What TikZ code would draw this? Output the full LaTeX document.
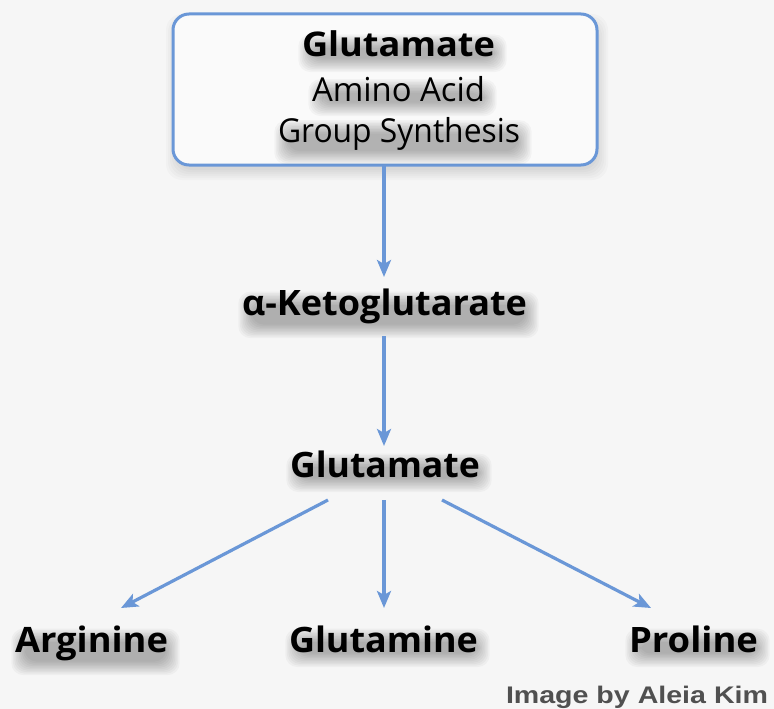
\documentclass[tikz,border=0pt]{standalone}
\usepackage{fontspec}
\setmainfont{Open Sans}
\newfontfamily\labfont{Open Sans Bold}
\newfontfamily\titfont{Open Sans Bold}
\newfontfamily\credfont{Liberation Sans Bold}
\usetikzlibrary{arrows.meta,calc}
\pgfdeclarelayer{bgl}
\pgfsetlayers{bgl,main}
\definecolor{bg}{HTML}{F6F6F6}
\definecolor{lineblue}{HTML}{6A97D7}
\definecolor{credgray}{HTML}{505050}
\newsavebox\fitbox
\newcommand\fitw[2]{\sbox\fitbox{#2}\pgfmathsetmacro\fitratio{#1/\wd\fitbox}\scalebox{\fitratio}[1]{\usebox\fitbox}}
\tikzset{
  lab/.style={font=\labfont\fontsize{35}{40}\selectfont, text=black, inner sep=0pt, anchor=base},
  tit/.style={font=\titfont\fontsize{34}{40}\selectfont, text=black, inner sep=0pt, anchor=base},
  sub/.style={font=\fontsize{33}{38}\selectfont, text=black, inner sep=0pt, anchor=base},
  flow/.style={draw=lineblue, line width=3.2pt, -{Stealth[length=17pt,width=14pt,inset=4pt]}},
}
% soft shadow under a text node
\newcommand\softshadow[1]{%
  \begin{pgfonlayer}{bgl}
  \foreach \r in {0,1.5,...,13.5}{%
    \fill[black, opacity=0.032, rounded corners=12pt]
      ($(#1.north west)+(10-\r,17-\r)$) rectangle ($(#1.south east)+(-2+\r,1+\r)$);}
  \end{pgfonlayer}}
\begin{document}
\begin{tikzpicture}[x=1pt,y=-1pt]
\useasboundingbox (0,0) rectangle (774,709);
\begin{pgfonlayer}{bgl}
\fill[bg] (0,0) rectangle (774,709);
\foreach \r in {0,2,...,10}{
  \fill[black, opacity=0.02, rounded corners=16pt] (176-\r,24-\r) rectangle (598+\r,170+\r);}
\node[draw=lineblue, line width=3pt, rounded corners=16pt, fill=bg!50!white,
      minimum width=424pt, minimum height=151pt, inner sep=0pt] (box) at (385,89.5) {};
\end{pgfonlayer}
\node[tit] (t1) at (398.5,57) {\fitw{193}{Glutamate}};
\node[sub] (t2) at (398.5,101) {\fitw{173}{Amino Acid}};
\node[sub] (t3) at (399,142) {\fitw{242}{Group Synthesis}};
\node[lab] (akg) at (384.5,315) {\fitw{285}{α-Ketoglutarate}};
\node[lab] (glu) at (385,477) {\fitw{190}{Glutamate}};
\node[lab] (arg) at (91.5,652) {\fitw{153}{Arginine}};
\node[lab] (gln) at (383.5,652) {\fitw{189}{Glutamine}};
\node[lab] (pro) at (693.5,652) {\fitw{129}{Proline}};
\foreach \n in {t1,t2,t3,akg,glu,arg,gln,pro}{\softshadow{\n}}
\node[font=\credfont\fontsize{24}{28}\selectfont, text=credgray, inner sep=0pt, anchor=base] (cred) at (637,703) {\fitw{262}{Image by Aleia Kim}};
\coordinate (a1s) at (384,165);
\coordinate (a1e) at (384,277);
\coordinate (a2s) at (384,336);
\coordinate (a2e) at (384,446);
\coordinate (l1s) at (328,500);
\coordinate (l1e) at (121,608);
\coordinate (l2s) at (384,500);
\coordinate (l2e) at (384,608);
\coordinate (l3s) at (442,500);
\coordinate (l3e) at (651,608);
\draw[flow] (a1s) -- (a1e);
\draw[flow] (a2s) -- (a2e);
\draw[flow] (l1s) -- (l1e);
\draw[flow] (l2s) -- (l2e);
\draw[flow] (l3s) -- (l3e);
\end{tikzpicture}
\end{document}
